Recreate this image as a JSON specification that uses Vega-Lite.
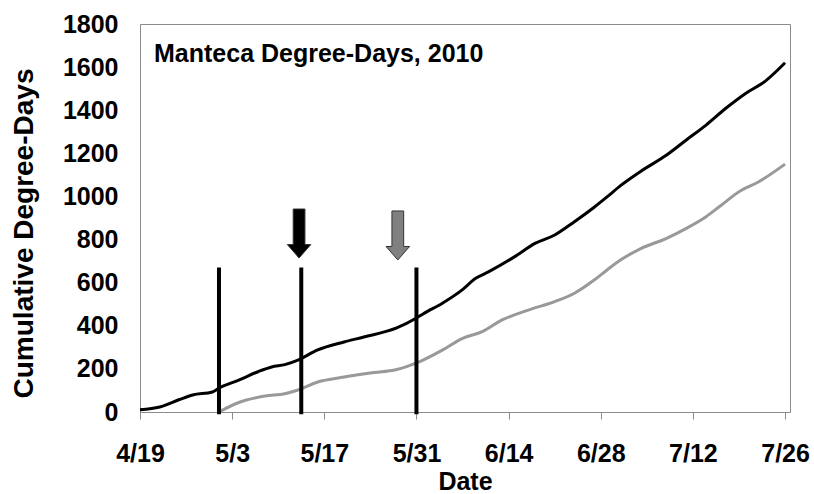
{
  "$schema": "https://vega.github.io/schema/vega-lite/v6.json",
  "width": 650,
  "height": 388,
  "autosize": {"type": "none"},
  "padding": {"left": 140, "top": 24, "right": 24, "bottom": 82},
  "background": "white",
  "config": {
    "view": {"stroke": "#8c8c8c", "strokeWidth": 1},
    "font": "Liberation Sans",
    "axis": {"labelFont": "Liberation Sans", "titleFont": "Liberation Sans", "grid": false}
  },
  "title": {
    "text": "Manteca Degree-Days, 2010",
    "anchor": "start",
    "frame": "group",
    "orient": "top",
    "offset": -75,
    "dx": 14,
    "fontSize": 25,
    "fontWeight": "bold",
    "color": "#000000",
    "baseline": "alphabetic",
    "font": "Liberation Sans"
  },
  "datasets": {
    "degreedays": [
      {"date": "2010-04-19T00:00:00", "series": "Start 4/19", "value": 10},
      {"date": "2010-04-22T00:00:00", "series": "Start 4/19", "value": 23},
      {"date": "2010-04-25T00:00:00", "series": "Start 4/19", "value": 58},
      {"date": "2010-04-27T00:00:00", "series": "Start 4/19", "value": 79},
      {"date": "2010-04-30T00:00:00", "series": "Start 4/19", "value": 93},
      {"date": "2010-05-01T00:00:00", "series": "Start 4/19", "value": 111},
      {"date": "2010-05-04T00:00:00", "series": "Start 4/19", "value": 148},
      {"date": "2010-05-07T00:00:00", "series": "Start 4/19", "value": 188},
      {"date": "2010-05-09T00:00:00", "series": "Start 4/19", "value": 209},
      {"date": "2010-05-11T00:00:00", "series": "Start 4/19", "value": 220},
      {"date": "2010-05-13T00:00:00", "series": "Start 4/19", "value": 241},
      {"date": "2010-05-16T00:00:00", "series": "Start 4/19", "value": 288},
      {"date": "2010-05-20T00:00:00", "series": "Start 4/19", "value": 325},
      {"date": "2010-05-23T00:00:00", "series": "Start 4/19", "value": 348},
      {"date": "2010-05-28T00:00:00", "series": "Start 4/19", "value": 390},
      {"date": "2010-05-31T00:00:00", "series": "Start 4/19", "value": 436},
      {"date": "2010-06-01T00:00:00", "series": "Start 4/19", "value": 455},
      {"date": "2010-06-04T00:00:00", "series": "Start 4/19", "value": 506},
      {"date": "2010-06-07T00:00:00", "series": "Start 4/19", "value": 568},
      {"date": "2010-06-09T00:00:00", "series": "Start 4/19", "value": 620},
      {"date": "2010-06-11T00:00:00", "series": "Start 4/19", "value": 651},
      {"date": "2010-06-15T00:00:00", "series": "Start 4/19", "value": 722},
      {"date": "2010-06-18T00:00:00", "series": "Start 4/19", "value": 782},
      {"date": "2010-06-21T00:00:00", "series": "Start 4/19", "value": 821},
      {"date": "2010-06-24T00:00:00", "series": "Start 4/19", "value": 883},
      {"date": "2010-06-27T00:00:00", "series": "Start 4/19", "value": 950},
      {"date": "2010-06-29T00:00:00", "series": "Start 4/19", "value": 999},
      {"date": "2010-07-01T00:00:00", "series": "Start 4/19", "value": 1050},
      {"date": "2010-07-04T00:00:00", "series": "Start 4/19", "value": 1115},
      {"date": "2010-07-08T00:00:00", "series": "Start 4/19", "value": 1192},
      {"date": "2010-07-11T00:00:00", "series": "Start 4/19", "value": 1262},
      {"date": "2010-07-14T00:00:00", "series": "Start 4/19", "value": 1331},
      {"date": "2010-07-17T00:00:00", "series": "Start 4/19", "value": 1409},
      {"date": "2010-07-20T00:00:00", "series": "Start 4/19", "value": 1478},
      {"date": "2010-07-23T00:00:00", "series": "Start 4/19", "value": 1535},
      {"date": "2010-07-26T00:00:00", "series": "Start 4/19", "value": 1620},
      {"date": "2010-05-01T00:00:00", "series": "Start 5/1", "value": 0},
      {"date": "2010-05-04T00:00:00", "series": "Start 5/1", "value": 44},
      {"date": "2010-05-08T00:00:00", "series": "Start 5/1", "value": 74},
      {"date": "2010-05-11T00:00:00", "series": "Start 5/1", "value": 85},
      {"date": "2010-05-13T00:00:00", "series": "Start 5/1", "value": 102},
      {"date": "2010-05-16T00:00:00", "series": "Start 5/1", "value": 139},
      {"date": "2010-05-20T00:00:00", "series": "Start 5/1", "value": 162},
      {"date": "2010-05-24T00:00:00", "series": "Start 5/1", "value": 181},
      {"date": "2010-05-28T00:00:00", "series": "Start 5/1", "value": 197},
      {"date": "2010-05-31T00:00:00", "series": "Start 5/1", "value": 228},
      {"date": "2010-06-01T00:00:00", "series": "Start 5/1", "value": 241},
      {"date": "2010-06-04T00:00:00", "series": "Start 5/1", "value": 288},
      {"date": "2010-06-07T00:00:00", "series": "Start 5/1", "value": 342},
      {"date": "2010-06-10T00:00:00", "series": "Start 5/1", "value": 373},
      {"date": "2010-06-13T00:00:00", "series": "Start 5/1", "value": 427},
      {"date": "2010-06-17T00:00:00", "series": "Start 5/1", "value": 473},
      {"date": "2010-06-21T00:00:00", "series": "Start 5/1", "value": 512},
      {"date": "2010-06-24T00:00:00", "series": "Start 5/1", "value": 551},
      {"date": "2010-06-27T00:00:00", "series": "Start 5/1", "value": 612},
      {"date": "2010-06-29T00:00:00", "series": "Start 5/1", "value": 660},
      {"date": "2010-07-01T00:00:00", "series": "Start 5/1", "value": 705},
      {"date": "2010-07-04T00:00:00", "series": "Start 5/1", "value": 757},
      {"date": "2010-07-08T00:00:00", "series": "Start 5/1", "value": 806},
      {"date": "2010-07-11T00:00:00", "series": "Start 5/1", "value": 852},
      {"date": "2010-07-14T00:00:00", "series": "Start 5/1", "value": 906},
      {"date": "2010-07-16T00:00:00", "series": "Start 5/1", "value": 952},
      {"date": "2010-07-19T00:00:00", "series": "Start 5/1", "value": 1022},
      {"date": "2010-07-22T00:00:00", "series": "Start 5/1", "value": 1068},
      {"date": "2010-07-26T00:00:00", "series": "Start 5/1", "value": 1150}
    ],
    "events": [
      {"date": "2010-05-01T00:00:00"},
      {"date": "2010-05-13T12:00:00"},
      {"date": "2010-05-31T00:00:00"}
    ],
    "arrows": [
      {"date": "2010-05-13T04:00:00", "series": "Start 4/19", "value": 828},
      {"date": "2010-05-28T04:00:00", "series": "Start 5/1", "value": 819}
    ]
  },
  "layer": [
    {
      "data": {"name": "degreedays"},
      "mark": {"type": "line", "strokeWidth": 3, "interpolate": "monotone"},
      "encoding": {
        "x": {
          "field": "date",
          "type": "temporal",
          "scale": {"domain": [{"year": 2010, "month": 4, "date": 19}, {"year": 2010, "month": 7, "date": 26, "hours": 18}]},
          "axis": {
            "title": "Date",
            "values": [
              {"year": 2010, "month": 4, "date": 19},
              {"year": 2010, "month": 5, "date": 3},
              {"year": 2010, "month": 5, "date": 17},
              {"year": 2010, "month": 5, "date": 31},
              {"year": 2010, "month": 6, "date": 14},
              {"year": 2010, "month": 6, "date": 28},
              {"year": 2010, "month": 7, "date": 12},
              {"year": 2010, "month": 7, "date": 26}
            ],
            "format": "%-m/%-d",
            "labelFontSize": 25,
            "labelFontWeight": "bold",
            "labelColor": "#000000",
            "labelPadding": 22,
            "labelFlush": false,
            "labelOverlap": false,
            "tickSize": 7,
            "tickColor": "#8c8c8c",
            "domainColor": "#8c8c8c",
            "titleFontSize": 25,
            "titleFontWeight": "bold",
            "titleColor": "#000000",
            "titlePadding": 3
          }
        },
        "y": {
          "field": "value",
          "type": "quantitative",
          "scale": {"domain": [0, 1800]},
          "axis": {
            "title": "Cumulative Degree-Days",
            "values": [0, 200, 400, 600, 800, 1000, 1200, 1400, 1600, 1800],
            "format": "d",
            "ticks": false,
            "labelPadding": 22,
            "labelFontSize": 25,
            "labelFontWeight": "bold",
            "labelColor": "#000000",
            "domainColor": "#8c8c8c",
            "titleFontSize": 28,
            "titleFontWeight": "bold",
            "titleColor": "#000000",
            "titlePadding": 24,
            "titleY": 209
          }
        },
        "color": {
          "field": "series",
          "type": "nominal",
          "scale": {"domain": ["Start 4/19", "Start 5/1"], "range": ["#000000", "#999999"]},
          "legend": null
        }
      }
    },
    {
      "data": {"name": "events"},
      "mark": {"type": "rule", "strokeWidth": 4, "color": "#000000"},
      "encoding": {
        "x": {"field": "date", "type": "temporal"},
        "y": {"datum": -10},
        "y2": {"datum": 670}
      }
    },
    {
      "data": {"name": "arrows"},
      "mark": {
        "type": "point",
        "filled": true,
        "shape": "M-0.24,-1L0.24,-1L0.24,0.45L0.48,0.45L0,1L-0.48,0.45L-0.24,0.45Z",
        "size": 2401,
        "opacity": 1,
        "stroke": "#333333",
        "strokeWidth": 1
      },
      "encoding": {
        "x": {"field": "date", "type": "temporal"},
        "y": {"field": "value", "type": "quantitative"},
        "fill": {"field": "series", "type": "nominal", "scale": {"domain": ["Start 4/19", "Start 5/1"], "range": ["#000000", "#808080"]}, "legend": null}
      }
    }
  ],
  "resolve": {"scale": {"fill": "independent"}}
}
